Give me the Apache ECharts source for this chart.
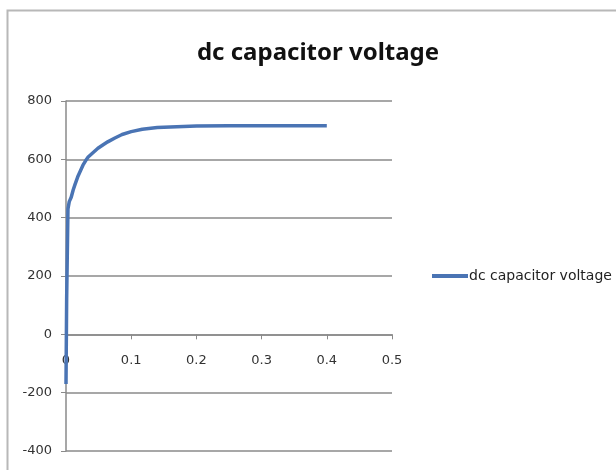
<!DOCTYPE html>
<html>
<head>
<meta charset="utf-8">
<script src="https://cdn.jsdelivr.net/npm/echarts@6/dist/echarts.min.js"></script>
<style>
  html, body { margin: 0; padding: 0; background: #fff; }
  #chart { width: 616px; height: 470px; }
</style>
</head>
<body>
<div id="chart"></div>
<script>
// time (s) and dc link voltage (V)
var timeS = [0, 0.001, 0.003, 0.005, 0.008, 0.011, 0.014, 0.018, 0.022, 0.026, 0.03, 0.034, 0.04, 0.049, 0.057, 0.064, 0.075, 0.086, 0.1, 0.117, 0.14, 0.17, 0.2, 0.25, 0.3, 0.35, 0.4]
var voltage = [-170, 120, 430, 455, 470, 495, 515, 540, 560, 580, 595, 608, 620, 638, 650, 660, 673, 685, 695, 703, 709, 712, 714, 715, 715, 715, 715]
var yTicks = [-400, -200, 0, 200, 400, 600, 800]
var xTicks = [0, 0.1, 0.2, 0.3, 0.4, 0.5]

var points = timeS.map(function (t, i) { return [t, voltage[i]] })

// plot box
var gridTop = 101
var gridBottom = 19
var plotH = 470 - gridTop - gridBottom
var yMin = yTicks[0]
var yMax = yTicks[yTicks.length - 1]
// put the x axis (line and labels) on the zero line
var zeroOffset = plotH * (0 - yMin) / (yMax - yMin)

var chart = echarts.init(document.getElementById('chart'))
chart.setOption({
  backgroundColor: '#fff',
  animation: false,
  title: {
    text: 'dc capacitor voltage',
    left: 313,
    top: 36,
    textAlign: 'center',
    textStyle: {
      fontFamily: 'Noto Sans',
      fontWeight: 'bold',
      fontSize: 24,
      color: '#111'
    }
  },
  graphic: [{
    type: 'rect',
    shape: { x: 7.5, y: 10.5, width: 640, height: 500 },
    style: { fill: 'none', stroke: '#b8b8b8', lineWidth: 2 },
    silent: true
  }],
  legend: {
    left: 427,
    top: 264,
    icon: 'rect',
    itemWidth: 36,
    itemHeight: 4,
    itemGap: 0,
    textStyle: {
      fontFamily: 'DejaVu Sans',
      fontSize: 14,
      color: '#222',
      padding: [0, 0, 0, -4]
    },
    data: ['dc capacitor voltage']
  },
  grid: {
    left: 66,
    right: 224,
    top: gridTop,
    bottom: gridBottom
  },
  xAxis: {
    type: 'value',
    min: xTicks[0],
    max: xTicks[xTicks.length - 1],
    interval: 0.1,
    offset: -zeroOffset,
    axisLine: { onZero: false, lineStyle: { color: '#8a8a8a', width: 1.5 } },
    axisTick: { show: true, length: 5, lineStyle: { color: '#8a8a8a' } },
    axisLabel: {
      margin: 20,
      fontFamily: 'DejaVu Sans',
      fontSize: 13,
      color: '#333'
    },
    splitLine: { show: false }
  },
  yAxis: {
    type: 'value',
    min: yMin,
    max: yMax,
    interval: 200,
    axisLine: { show: true, onZero: false, lineStyle: { color: '#8a8a8a', width: 1.5 } },
    axisTick: { show: true, length: 5, lineStyle: { color: '#8a8a8a' } },
    axisLabel: {
      margin: 14,
      fontFamily: 'DejaVu Sans',
      fontSize: 13,
      color: '#333'
    },
    splitLine: { show: true, lineStyle: { color: '#8a8a8a', width: 1.5 } }
  },
  series: [{
    name: 'dc capacitor voltage',
    type: 'line',
    data: points,
    showSymbol: false,
    symbol: 'none',
    itemStyle: { color: '#4a74b4' },
    lineStyle: { color: '#4a74b4', width: 3.5 },
    z: 3
  }]
})
</script>
</body>
</html>
